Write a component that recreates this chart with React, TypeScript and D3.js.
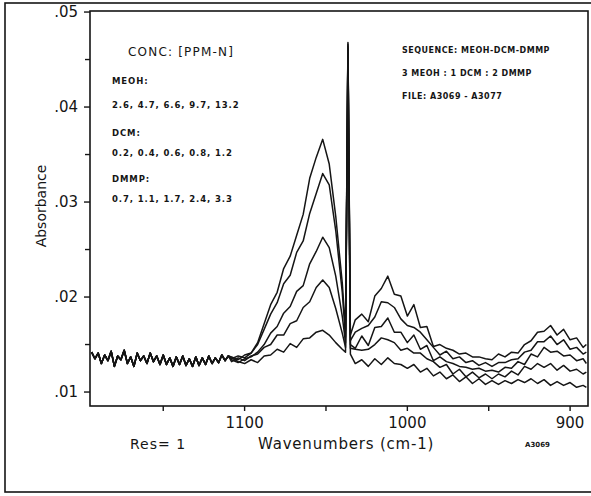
import * as d3 from 'd3';
import React from 'react';

// shared noisy baseline, before the traces separate
const baseWavenumbers = [
  1194, 1192, 1190, 1188, 1186, 1184, 1182, 1180, 1178, 1176, 1174, 1172, 1170, 1168, 1166,
  1164, 1162, 1160, 1158, 1156, 1154, 1152, 1150, 1148, 1146, 1144, 1142, 1140, 1138, 1136,
  1134, 1132, 1130, 1128, 1126, 1124, 1122, 1120, 1118, 1116, 1114, 1112, 1110,
];
const baseline = [
  0.0142, 0.0135, 0.0141, 0.0130, 0.0139, 0.0133, 0.0143, 0.0127, 0.0138, 0.0134, 0.0144,
  0.0130, 0.0137, 0.0127, 0.0141, 0.0133, 0.0138, 0.0130, 0.0141, 0.0132, 0.0138, 0.0129,
  0.0139, 0.0129, 0.0136, 0.0127, 0.0137, 0.0129, 0.0138, 0.0128, 0.0135, 0.0127, 0.0137,
  0.0128, 0.0136, 0.0129, 0.0138, 0.0130, 0.0136, 0.0131, 0.0139, 0.0133, 0.0138,
];

const wavenumbers = [
  1108, 1104, 1100, 1096, 1092, 1088, 1084, 1080, 1076, 1072, 1068, 1064, 1060, 1056, 1052,
  1048, 1044, 1040, 1038, 1036.5, 1035, 1032, 1028, 1024, 1020, 1016, 1012, 1008, 1004, 1000,
  996, 992, 988, 984, 980, 976, 972, 968, 964, 960, 956, 952, 948, 944, 940, 936, 932, 928,
  924, 920, 916, 912, 908, 904, 900, 896, 892, 890,
];

const trace1 = [
  0.0137, 0.0134, 0.0139, 0.0141, 0.0152, 0.0172, 0.0192, 0.0205, 0.0230, 0.0243, 0.0265,
  0.0287, 0.0325, 0.0347, 0.0366, 0.0340, 0.0285, 0.0215, 0.0165, 0.0468, 0.0160, 0.0176,
  0.0182, 0.0174, 0.0201, 0.0209, 0.0222, 0.0203, 0.0201, 0.0180, 0.0192, 0.0168, 0.0169,
  0.0148, 0.0150, 0.0146, 0.0144, 0.0140, 0.0141, 0.0137, 0.0137, 0.0135, 0.0134, 0.0140,
  0.0137, 0.0142, 0.0141, 0.0150, 0.0154, 0.0163, 0.0164, 0.0170, 0.0160, 0.0166, 0.0155,
  0.0157, 0.0147, 0.0150,
];
const trace2 = [
  0.0135, 0.0138, 0.0136, 0.0141, 0.0150, 0.0166, 0.0182, 0.0194, 0.0214, 0.0223, 0.0247,
  0.0259, 0.0288, 0.0309, 0.0330, 0.0318, 0.0270, 0.0205, 0.0158, 0.0466, 0.0154, 0.0163,
  0.0167, 0.0170, 0.0179, 0.0195, 0.0194, 0.0189, 0.0177, 0.0170, 0.0168, 0.0163, 0.0155,
  0.0147, 0.0139, 0.0143, 0.0135, 0.0137, 0.0131, 0.0133, 0.0128, 0.0131, 0.0127, 0.0131,
  0.0131, 0.0134, 0.0135, 0.0142, 0.0144, 0.0153, 0.0153, 0.0159, 0.0150, 0.0155, 0.0145,
  0.0147, 0.0140, 0.0142,
];
const trace3 = [
  0.0134, 0.0131, 0.0135, 0.0137, 0.0142, 0.0150, 0.0162, 0.0169, 0.0183, 0.0190, 0.0206,
  0.0212, 0.0235, 0.0248, 0.0263, 0.0252, 0.0222, 0.0180, 0.0152, 0.0464, 0.0150, 0.0146,
  0.0159, 0.0149, 0.0168, 0.0169, 0.0178, 0.0163, 0.0163, 0.0152, 0.0160, 0.0145, 0.0149,
  0.0133, 0.0137, 0.0132, 0.0130, 0.0127, 0.0126, 0.0124, 0.0125, 0.0122, 0.0123, 0.0121,
  0.0126, 0.0125, 0.0132, 0.0129, 0.0140, 0.0137, 0.0147, 0.0142, 0.0143, 0.0138, 0.0139,
  0.0133, 0.0135, 0.0130,
];
const trace4 = [
  0.0132, 0.0136, 0.0133, 0.0138, 0.0140, 0.0147, 0.0150, 0.0160, 0.0160, 0.0172, 0.0175,
  0.0189, 0.0195, 0.0210, 0.0218, 0.0210, 0.0188, 0.0162, 0.0147, 0.0462, 0.0146, 0.0145,
  0.0144, 0.0145, 0.0150, 0.0157, 0.0155, 0.0152, 0.0144, 0.0146, 0.0141, 0.0141, 0.0135,
  0.0132, 0.0126, 0.0129, 0.0119, 0.0124, 0.0116, 0.0121, 0.0115, 0.0119, 0.0114, 0.0119,
  0.0116, 0.0122, 0.0118, 0.0127, 0.0124, 0.0130, 0.0126, 0.0130, 0.0123, 0.0128, 0.0122,
  0.0124, 0.0119, 0.0121,
];
const trace5 = [
  0.0136, 0.0132, 0.0130, 0.0134, 0.0131, 0.0138, 0.0139, 0.0145, 0.0142, 0.0151, 0.0147,
  0.0156, 0.0157, 0.0163, 0.0165, 0.0160, 0.0152, 0.0145, 0.0142, 0.0460, 0.0140, 0.0130,
  0.0134, 0.0127, 0.0135, 0.0129, 0.0136, 0.0130, 0.0129, 0.0125, 0.0129, 0.0121, 0.0125,
  0.0117, 0.0121, 0.0114, 0.0118, 0.0111, 0.0116, 0.0109, 0.0114, 0.0108, 0.0112, 0.0108,
  0.0112, 0.0109, 0.0113, 0.0110, 0.0114, 0.0109, 0.0113, 0.0107, 0.0111, 0.0107, 0.0110,
  0.0105, 0.0107, 0.0105,
];
const traces = [trace1, trace2, trace3, trace4, trace5];

const yTicks = [0.01, 0.02, 0.03, 0.04, 0.05];
const yMinorTicks = [0.015, 0.025, 0.035, 0.045];
const xTicks = [1100, 1000, 900];
const xMinorTicks = [1150, 1050, 950];

const concLines = [
  'MEOH:',
  '2.6, 4.7, 6.6, 9.7, 13.2',
  'DCM:',
  '0.2, 0.4, 0.6, 0.8, 1.2',
  'DMMP:',
  '0.7, 1.1, 1.7, 2.4, 3.3',
];
const infoLines = ['SEQUENCE: MEOH-DCM-DMMP', '3 MEOH : 1 DCM : 2 DMMP', 'FILE: A3069 - A3077'];

const W = 591;
const H = 496;
const plot = { left: 90, right: 588, top: 11, bottom: 406 };
const ink = '#151515';

export default function App() {
  const x = d3.scaleLinear().domain([1195, 889]).range([plot.left, plot.right]);
  const y = d3.scaleLinear().domain([0.00853, 0.05011]).range([plot.bottom, plot.top]);

  const line = d3
    .line<[number, number]>()
    .x((d) => x(d[0]))
    .y((d) => y(d[1]));

  const basePts = baseWavenumbers.map((w, i) => [w, baseline[i]] as [number, number]);
  const fmt = (v: number) => d3.format('.2f')(v).replace(/^0/, '');

  return (
    <svg
      width={W}
      height={H}
      style={{ position: 'absolute', left: 0, top: 0, background: '#fff' }}
      fontFamily="'DejaVu Sans', sans-serif"
    >
      {/* outer frame of the figure */}
      <rect x={5} y={3} width={W - 4} height={489} fill="none" stroke={ink} strokeWidth={1.6} />

      {/* plot frame */}
      <rect
        x={plot.left}
        y={plot.top}
        width={plot.right - plot.left}
        height={plot.bottom - plot.top}
        fill="none"
        stroke={ink}
        strokeWidth={1.6}
      />

      {/* y axis */}
      {yTicks.map((t) => (
        <g key={t}>
          <line x1={plot.left - 6} x2={plot.left} y1={y(t)} y2={y(t)} stroke={ink} strokeWidth={1.4} />
          <text x={78} y={y(t) + 5} textAnchor="end" fontSize={15} fill={ink}>
            {fmt(t)}
          </text>
        </g>
      ))}
      {yMinorTicks.map((t) => (
        <line key={t} x1={plot.left - 5} x2={plot.left} y1={y(t)} y2={y(t)} stroke={ink} strokeWidth={1.4} />
      ))}

      {/* x axis */}
      {xTicks.map((t) => (
        <g key={t}>
          <line x1={x(t)} x2={x(t)} y1={plot.bottom} y2={plot.bottom + 5} stroke={ink} strokeWidth={1.4} />
          <text x={x(t)} y={428} textAnchor="middle" fontSize={15} fill={ink}>
            {t}
          </text>
        </g>
      ))}
      {xMinorTicks.map((t) => (
        <line key={t} x1={x(t)} x2={x(t)} y1={plot.bottom} y2={plot.bottom + 5} stroke={ink} strokeWidth={1.4} />
      ))}

      {/* spectra */}
      {traces.map((vals, k) => (
        <path
          key={k}
          d={line(basePts.concat(wavenumbers.map((w, i) => [w, vals[i]] as [number, number]))) ?? ''}
          fill="none"
          stroke={ink}
          strokeWidth={1.5}
          strokeLinejoin="round"
        />
      ))}

      {/* labels */}
      <text
        transform="translate(46,206) rotate(-90)"
        textAnchor="middle"
        fontSize={14}
        fill={ink}
      >
        Absorbance
      </text>
      <text x={130} y={449} fontSize={14} fill={ink} letterSpacing={1}>
        Res= 1
      </text>
      <text x={258} y={449} fontSize={15} fill={ink} letterSpacing={0.8}>
        Wavenumbers (cm-1)
      </text>
      <text x={525} y={447} fontSize={7} fontWeight="bold" fill={ink}>
        A3069
      </text>

      {/* concentration notes */}
      <text x={128} y={56} fontSize={12} fill={ink} letterSpacing={1.2}>
        CONC:  [PPM-N]
      </text>
      {concLines.map((s, i) => (
        <text
          key={s}
          x={112}
          y={[84, 108, 136, 156, 182, 202][i]}
          fontSize={8.5}
          fontWeight="bold"
          letterSpacing={0.9}
          fill={ink}
        >
          {s}
        </text>
      ))}
      {infoLines.map((s, i) => (
        <text
          key={s}
          x={402}
          y={53 + i * 23}
          fontSize={8}
          fontWeight="bold"
          letterSpacing={0.5}
          fill={ink}
        >
          {s}
        </text>
      ))}
    </svg>
  );
}
